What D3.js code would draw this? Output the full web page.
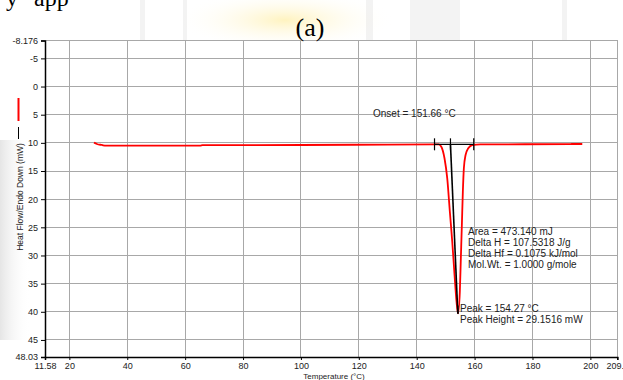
<!DOCTYPE html>
<html>
<head>
<meta charset="utf-8">
<style>
body { margin: 0; background: #fff; overflow: hidden; }
text { font-family: "Liberation Sans", Arial, sans-serif; fill: #222; }
.grid line { stroke: #a8a8a8; stroke-width: 1px; shape-rendering: crispEdges; }
</style>
</head>
<body>
<script src="https://cdn.jsdelivr.net/npm/d3@7"></script>
<script>

// DSC trace, temperature (°C) vs heat flow (mW, endo down)
var temps = [28.5, 29.5, 31.2, 32.7, 65.2, 66.0, 100, 130, 146, 147.6, 148.5, 149.6, 150.55,
             151.45, 152.28, 153.07, 153.76, 154.27, 154.9, 155.25, 155.6, 155.94, 156.29,
             156.88, 157.81, 159.2, 162, 193, 193.5, 197.2];
var heatFlow = [9.97, 10.2, 10.38, 10.51, 10.51, 10.42, 10.38, 10.3, 10.26, 10.28, 10.68, 12.74, 16.3,
                22.23, 27.56, 33.47, 38.21, 40.3, 36.4, 30.5, 24.6, 18.7, 14.52,
                12.16, 10.97, 10.38, 10.26, 10.24, 10.2, 10.2];

var xTicks = [11.58, 20, 40, 60, 80, 100, 120, 140, 160, 180, 200, 209.3];
var yTicks = [-8.176, -5, 0, 5, 10, 15, 20, 25, 30, 35, 40, 45, 48.03];

// analysis marks
var baseLevel = 10.26;
var baseStart = 146.15, onsetT = 151.66, baseEnd = 159.7;
var tangentEnd = [154.2, 40.3];
var peakT = 154.27;
var resultLines = ["Area = 473.140 mJ", "Delta H = 107.5318 J/g",
                   "Delta Hf = 0.1075 kJ/mol", "Mol.Wt. = 1.0000 g/mole"];
var peakLines = ["Peak = 154.27 °C", "Peak Height = 29.1516 mW"];

var width = 623, height = 380;

var svg = d3.select("body").append("svg")
    .attr("width", width)
    .attr("height", height);

// faint page background from the scan
var defs = svg.append("defs");
var lg = defs.append("linearGradient").attr("id", "smudge")
    .attr("x1", 0).attr("x2", 1).attr("y1", 0).attr("y2", 0);
lg.append("stop").attr("offset", "0%").attr("stop-color", "#d4d4d4");
lg.append("stop").attr("offset", "100%").attr("stop-color", "#fff").attr("stop-opacity", 0);
var yg = defs.append("radialGradient").attr("id", "blob");
yg.append("stop").attr("offset", "0%").attr("stop-color", "#fff0b0");
yg.append("stop").attr("offset", "100%").attr("stop-color", "#fff").attr("stop-opacity", 0);

var bg = svg.append("g").attr("class", "bg");
bg.append("ellipse").attr("cx", 285).attr("cy", 20).attr("rx", 110).attr("ry", 30)
    .attr("fill", "url(#blob)").attr("opacity", 0.8);
[[140, 5], [183, 4], [366, 7], [410, 50], [562, 5]].forEach(function(b) {
  bg.append("rect").attr("x", b[0]).attr("y", 0).attr("width", b[1]).attr("height", 40)
      .attr("fill", "#dcdcdc").attr("opacity", 0.35);
});
bg.append("rect").attr("x", 0).attr("y", 140).attr("width", 30).attr("height", 200)
    .attr("fill", "url(#smudge)").attr("opacity", 0.6);

svg.append("text")
    .attr("x", 6).attr("y", 6)
    .style("font-family", "'Liberation Serif', 'Times New Roman', serif")
    .style("font-size", "24px").style("fill", "#000")
    .style("word-spacing", "10px")
    .text("y app");

var x = d3.scaleLinear().domain([11.58, 209.3]).range([45, 617.3]);
var y = d3.scaleLinear().domain([-8.176, 48.03]).range([40.5, 357]);

// plot box + grid
svg.append("rect")
    .attr("x", x.range()[0]).attr("y", y.range()[0])
    .attr("width", x.range()[1] - x.range()[0]).attr("height", y.range()[1] - y.range()[0])
    .attr("fill", "#fff").attr("stroke", "#a8a8a8").attr("shape-rendering", "crispEdges");

svg.append("text")
    .attr("x", 310).attr("y", 36)
    .attr("text-anchor", "middle")
    .style("font-family", "'Liberation Serif', 'Times New Roman', serif")
    .style("font-size", "26px").style("fill", "#000")
    .text("(a)");

var grid = svg.append("g").attr("class", "grid");
grid.selectAll(".vx")
    .data(xTicks.slice(1, -1))
    .enter().append("line")
    .attr("x1", function(d) { return x(d); }).attr("x2", function(d) { return x(d); })
    .attr("y1", y.range()[0]).attr("y2", y.range()[1]);
grid.selectAll(".hy")
    .data(yTicks.slice(1, -1))
    .enter().append("line")
    .attr("y1", function(d) { return y(d); }).attr("y2", function(d) { return y(d); })
    .attr("x1", x.range()[0]).attr("x2", x.range()[1]);

// axes
var xAxis = svg.append("g")
    .attr("transform", "translate(0," + y.range()[1] + ")")
    .call(d3.axisBottom(x).tickValues(xTicks).tickSize(3).tickPadding(3)
      .tickFormat(function(d) { return String(d); }));
var yAxis = svg.append("g")
    .attr("transform", "translate(" + x.range()[0] + ",0)")
    .call(d3.axisLeft(y).tickValues(yTicks).tickSize(4).tickPadding(3)
      .tickFormat(function(d) { return String(d); }));

[xAxis, yAxis].forEach(function(a) {
  a.select(".domain").attr("stroke", "#000").attr("stroke-width", 1.5);
  a.selectAll(".tick line").attr("stroke", "#000");
  a.selectAll(".tick text").style("font-size", "9px").style("fill", "#222")
      .style("font-family", "'Liberation Sans', Arial, sans-serif");
});

svg.append("text")
    .attr("x", 334).attr("y", 378.5)
    .attr("text-anchor", "middle")
    .style("font-size", "8px")
    .text("Temperature (°C)");

svg.append("text")
    .attr("transform", "translate(23,197) rotate(-90)")
    .attr("text-anchor", "middle")
    .style("font-size", "8.5px")
    .text("Heat Flow/Endo Down (mW)");
svg.append("line").attr("x1", 18.5).attr("x2", 18.5).attr("y1", 127).attr("y2", 139)
    .attr("stroke", "#000").attr("stroke-width", 1);
svg.append("line").attr("x1", 18.5).attr("x2", 18.5).attr("y1", 98).attr("y2", 121)
    .attr("stroke", "#ff0000").attr("stroke-width", 2);

// trace
var pts = temps.map(function(t, i) { return [t, heatFlow[i]]; });
var line = d3.line()
    .x(function(d) { return x(d[0]); })
    .y(function(d) { return y(d[1]); })
    .curve(d3.curveMonotoneX);

svg.append("path")
    .datum(pts)
    .attr("d", line)
    .attr("fill", "none")
    .attr("stroke", "#ff0000")
    .attr("stroke-width", 1.8)
    .attr("stroke-linejoin", "round");

// onset construction
var mk = svg.append("g").attr("stroke", "#000").attr("stroke-width", 1.2);
mk.append("line")
    .attr("x1", x(baseStart)).attr("x2", x(baseEnd))
    .attr("y1", y(baseLevel)).attr("y2", y(baseLevel));
[baseStart, onsetT, baseEnd].forEach(function(t) {
  mk.append("line")
      .attr("x1", x(t)).attr("x2", x(t))
      .attr("y1", y(baseLevel) - 6).attr("y2", y(baseLevel) + 6);
});
mk.append("line")
    .attr("x1", x(onsetT)).attr("x2", x(tangentEnd[0]))
    .attr("y1", y(baseLevel)).attr("y2", y(tangentEnd[1]))
    .attr("stroke-width", 1.6);
mk.append("line")
    .attr("x1", x(peakT)).attr("x2", x(peakT))
    .attr("y1", y(38.9)).attr("y2", y(40.4));

svg.append("text")
    .attr("x", 373).attr("y", 117)
    .style("font-size", "10px")
    .text("Onset = 151.66 °C");

svg.append("g").selectAll("text")
    .data(resultLines)
    .enter().append("text")
    .attr("x", 468).attr("y", function(d, i) { return 235 + i * 11.1; })
    .style("font-size", "10px")
    .text(function(d) { return d; });

svg.append("g").selectAll("text")
    .data(peakLines)
    .enter().append("text")
    .attr("x", 460).attr("y", function(d, i) { return 312 + i * 11; })
    .style("font-size", "10px")
    .text(function(d) { return d; });

</script>
</body>
</html>
